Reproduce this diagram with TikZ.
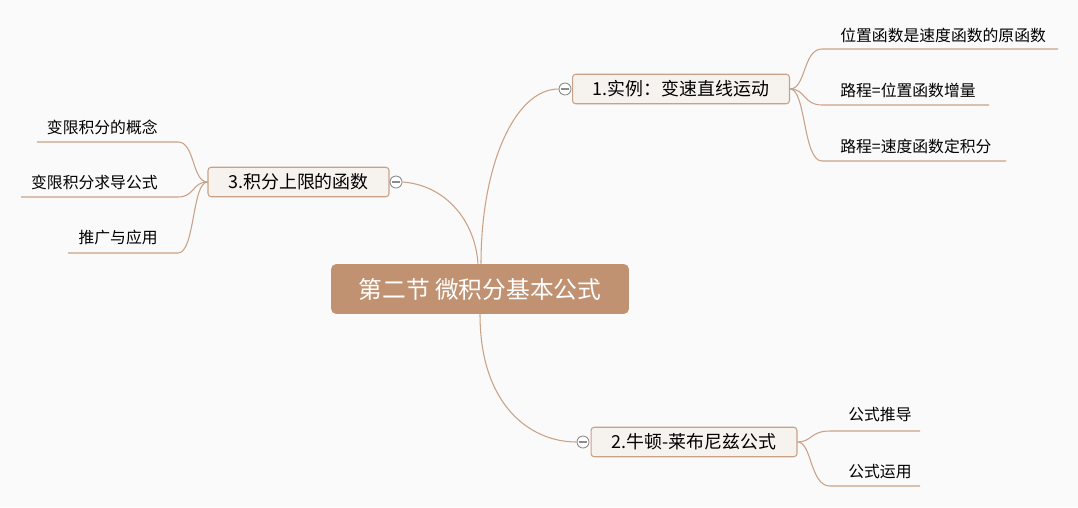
\documentclass[tikz,border=0pt]{standalone}
\usepackage{fontspec}
\newfontfamily\cjk{Noto Sans CJK SC}
\usetikzlibrary{positioning}

\definecolor{bgcol}{RGB}{250,250,250}
\definecolor{rootfill}{RGB}{192,146,114}
\definecolor{topicfill}{RGB}{246,243,239}
\definecolor{topicline}{RGB}{200,162,136}
\definecolor{linkcol}{RGB}{201,161,135}
\definecolor{knobcol}{RGB}{140,140,140}

\begin{document}
\begin{tikzpicture}[x=0.02cm, y=-0.02cm, font=\cjk,
	root/.style={fill=rootfill, rounded corners=3pt, text=white, inner sep=0pt,
		minimum width=5.96cm, minimum height=1cm, font=\cjk\fontsize{13.5}{16}\selectfont},
	topic/.style={draw=topicline, fill=topicfill, line width=0.6pt, rounded corners=1.8pt,
		inner sep=0pt, minimum height=0.59cm, font=\cjk\fontsize{10.2}{12}\selectfont},
	knob/.style={circle, draw=knobcol, fill=white, line width=0.5pt, inner sep=0pt,
		minimum size=0.24cm,
		path picture={\draw[knobcol, line width=0.6pt] ([xshift=-2.3pt]path picture bounding box.center) -- ([xshift=2.3pt]path picture bounding box.center);}},
	leaf/.style={inner sep=0pt, font=\cjk\fontsize{9}{11}\selectfont},
	link/.style={draw=linkcol, line width=0.6pt}]

	% background
	\fill[bgcol] (0,0) rectangle (1078,507);

	% central topic
	\node[root] (root) at (480,289) {第二节 微积分基本公式};

	% main topics
	\node[topic, minimum width=4.34cm] (t1) at (681,89) {1.实例：变速直线运动};
	\node[topic, minimum width=4.12cm] (t2) at (694,442) {2.牛顿-莱布尼兹公式};
	\node[topic, minimum width=3.62cm] (t3) at (298.5,182) {3.积分上限的函数};

	% collapse knobs
	\node[knob] (k1) at (565,89) {};
	\node[knob] (k2) at (583,442) {};
	\node[knob] (k3) at (396,182) {};

	\draw[link] ([xshift=0.02cm]root.north) .. controls (481,165) and (515,89) .. (k1.west);
	\draw[link] ([xshift=-0.04cm]root.north) .. controls (475,220) and (445,185) .. (k3.east);
	\draw[link] (root.south) .. controls (480,405) and (530,442) .. (k2.west);

	% leaves of topic 1
	\node[leaf, anchor=west] (a1) at (840,35) {位置函数是速度函数的原函数};
	\node[leaf, anchor=west] (a2) at (840,90) {路程=位置函数增量};
	\node[leaf, anchor=west] (a3) at (840,146.5) {路程=速度函数定积分};
	\coordinate (a1e) at (1058,49);
	\coordinate (a2e) at (989,105);
	\coordinate (a3e) at (1006,161);
	\draw[link] (t1.east) .. controls (806,89) and (803,49) .. (822,49) -- (a1e);
	\draw[link] (t1.east) .. controls (806,89) and (803,105) .. (822,105) -- (a2e);
	\draw[link] (t1.east) .. controls (806,89) and (803,161) .. (822,161) -- (a3e);

	% leaves of topic 2
	\node[leaf, anchor=west] (b1) at (848,415) {公式推导};
	\node[leaf, anchor=west] (b2) at (848,472) {公式运用};
	\coordinate (b1e) at (920,431);
	\coordinate (b2e) at (920,486);
	\draw[link] (t2.east) .. controls (812,442) and (810,431) .. (830,431) -- (b1e);
	\draw[link] (t2.east) .. controls (812,442) and (810,486) .. (830,486) -- (b2e);

	% leaves of topic 3
	\node[leaf, anchor=east] (c1) at (158,127) {变限积分的概念};
	\node[leaf, anchor=east] (c2) at (158,182) {变限积分求导公式};
	\node[leaf, anchor=east] (c3) at (158,238) {推广与应用};
	\coordinate (c1e) at (37,142);
	\coordinate (c2e) at (21,197);
	\coordinate (c3e) at (68,253);
	\draw[link] (t3.west) .. controls (192,182) and (195,142) .. (178,142) -- (c1e);
	\draw[link] (t3.west) .. controls (192,182) and (195,197) .. (178,197) -- (c2e);
	\draw[link] (t3.west) .. controls (192,182) and (195,253) .. (178,253) -- (c3e);

\end{tikzpicture}
\end{document}
